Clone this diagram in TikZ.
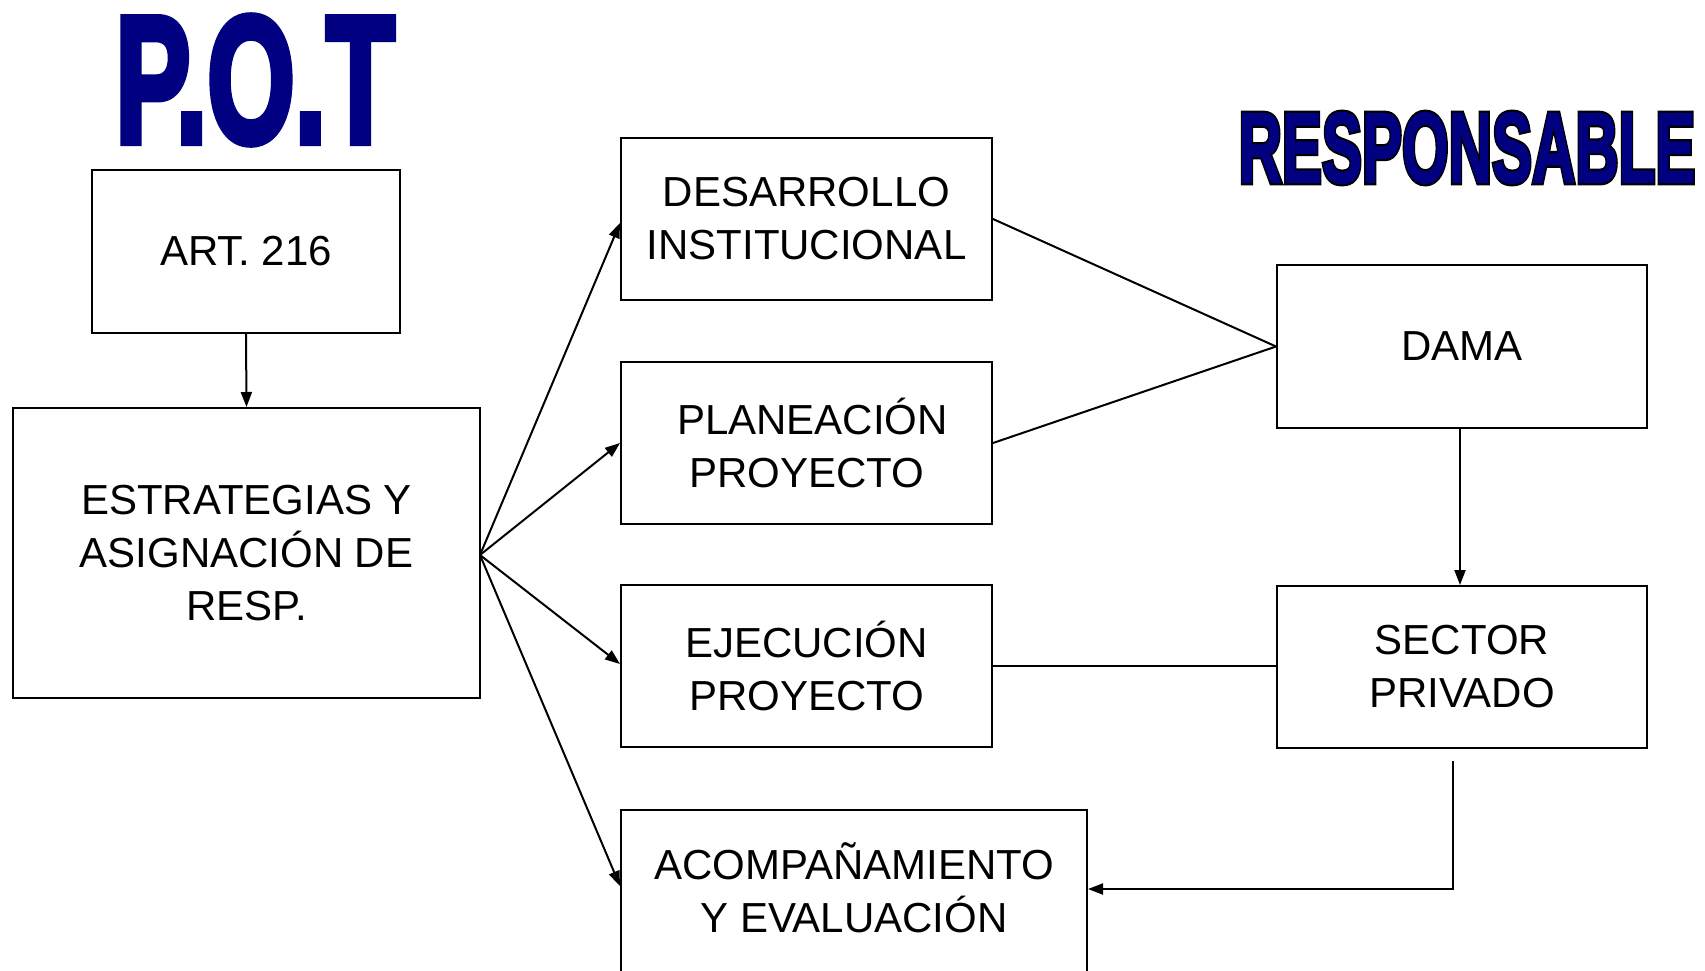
\documentclass[tikz,border=0pt]{standalone}
\usepackage{fontspec}
\setmainfont{Liberation Sans}
\newfontfamily\potfont[FakeBold=4.5]{Liberation Sans Bold}
\newfontfamily\respin[FakeBold=1.5]{Liberation Sans Bold}
\newfontfamily\resout[FakeBold=6]{Liberation Sans Bold}
\usetikzlibrary{arrows.meta,calc}
\definecolor{navyc}{HTML}{000080}
\tikzset{
  box/.style={draw, line width=2pt, rectangle, align=center, inner sep=0pt,
    font=\fontsize{42}{53}\selectfont},
  conn/.style={line width=2pt},
  arr/.style={line width=2pt, -{Triangle[length=15pt,width=11pt]}},
}
\begin{document}
\begin{tikzpicture}[x=1pt,y=-1pt]
\useasboundingbox (0,0) rectangle (1705,970);
\clip (0,0) rectangle (1705,970);
% titles
\node[text=navyc, inner sep=0pt] (pot) at (255,80)
  {\scalebox{0.625}[1]{\potfont\fontsize{180}{180}\selectfont P.O.T}};
\node[text=black, inner sep=0pt] (resb) at (1467,148)
  {\scalebox{0.6}[1]{\resout\fontsize{100}{100}\selectfont RESPONSABLE}};
\node[text=navyc, inner sep=0pt] (resf) at (1467,148)
  {\scalebox{0.6}[1]{\respin\fontsize{100}{100}\selectfont RESPONSABLE}};
% boxes
\node[box, minimum width=308pt, minimum height=163pt] (art) at (246,251.5) {ART. 216};
\node[box, minimum width=467pt, minimum height=290pt] (estr) at (246.5,553) {ESTRATEGIAS Y\\ASIGNACIÓN DE\\RESP.};
\node[box, minimum width=371pt, minimum height=162pt] (des) at (806.5,219) {DESARROLLO\\INSTITUCIONAL};
\node[box, minimum width=371pt, minimum height=162pt] (pla) at (806.5,443) {\hspace*{12pt}PLANEACIÓN\\PROYECTO};
\node[box, minimum width=371pt, minimum height=162pt] (eje) at (806.5,666) {EJECUCIÓN\\PROYECTO};
\node[box, minimum width=466pt, minimum height=168pt] (aco) at (854,894) {};
\node[align=center, inner sep=0pt, font=\fontsize{42}{53}\selectfont] (acotxt) at (854,888) {ACOMPAÑAMIENTO\\Y EVALUACIÓN};
\node[box, minimum width=370pt, minimum height=163pt] (dama) at (1462,346.5) {DAMA};
\node[box, minimum width=370pt, minimum height=162pt] (sec) at (1462,667) {SECTOR\\PRIVADO};
% connectors
\draw[arr] (art.south) -- (estr.north);
\coordinate (hub) at (480,555);
\draw[arr] (hub) -- ($(des.west)+(0,4)$);
\draw[arr] (hub) -- (pla.west);
\draw[arr] (hub) -- ($(eje.west)+(0,-2)$);
\draw[arr] (hub) -- ($(aco.west)+(0,-8)$);
\draw[conn] (des.east) -- (dama.west);
\draw[conn] (pla.east) -- (dama.west);
\draw[arr] ($(dama.south)+(-2,0)$) -- ($(sec.north)+(-2,0)$);
\draw[conn] (eje.east) -- (eje.east -| sec.west);
\coordinate (s1) at (1453,761);
\draw[arr] (s1) |- ($(aco.east)+(0,-5)$);
\end{tikzpicture}
\end{document}
